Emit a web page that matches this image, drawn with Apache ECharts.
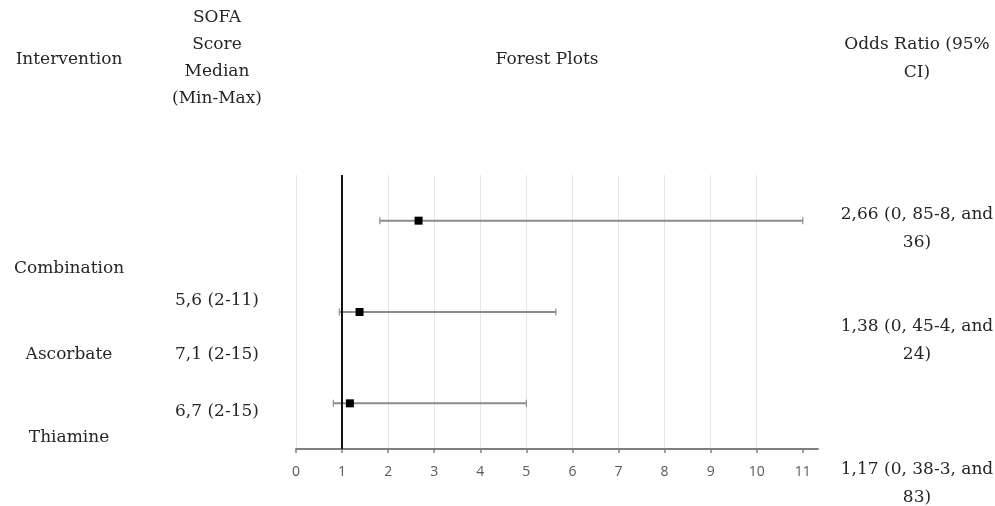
<!DOCTYPE html>
<html>
<head>
<meta charset="utf-8">
<script src="https://cdn.jsdelivr.net/npm/echarts@6/dist/echarts.min.js"></script>
<style>
  html, body { margin: 0; padding: 0; background: #fff; }
  #chart { width: 995px; height: 506px; }
</style>
</head>
<body>
<div id="chart"></div>
<script>
// Rows from top to bottom of the forest plot
const interventions = ['Combination', 'Ascorbate', 'Thiamine'];
const sofaScores = ['5,6 (2-11)', '7,1 (2-15)', '6,7 (2-15)'];
const oddsRatio = [2.66, 1.38, 1.17];
const ciLow = [1.82, 0.94, 0.81];
const ciHigh = [11.0, 5.64, 5.0];
const orLabels = [
  ['2,66 (0, 85-8, and', '36)'],
  ['1,38 (0, 45-4, and', '24)'],
  ['1,17 (0, 38-3, and', '83)']
];
const rowPos = [2.5, 1.5, 0.5];
const xTicks = [0, 1, 2, 3, 4, 5, 6, 7, 8, 9, 10, 11];

const SERIF = '"DejaVu Serif", serif';
const TXT = '#262626';

const chart = echarts.init(document.getElementById('chart'));

const rows = oddsRatio.map((v, i) => [v, rowPos[i], ciLow[i], ciHigh[i]]);

function txt(x, y, s, align) {
  return {
    type: 'text',
    x: x, y: y,
    style: {
      text: s, fill: TXT, font: '17px ' + SERIF,
      align: align || 'center', verticalAlign: 'middle'
    }
  };
}

const graphics = [
  txt(69, 60, 'Intervention'),
  txt(217, 18, 'SOFA'),
  txt(217, 45, 'Score'),
  txt(217, 72, 'Median'),
  txt(217, 99, '(Min-Max)'),
  txt(547, 60, 'Forest Plots'),
  txt(917, 45, 'Odds Ratio (95%'),
  txt(917, 73, 'CI)'),
  txt(69, 269, interventions[0]),
  txt(69, 355, interventions[1]),
  txt(69, 438, interventions[2]),
  txt(217, 301, sofaScores[0]),
  txt(217, 355, sofaScores[1]),
  txt(217, 412, sofaScores[2]),
  txt(917, 215, orLabels[0][0]), txt(917, 243, orLabels[0][1]),
  txt(917, 327, orLabels[1][0]), txt(917, 355, orLabels[1][1]),
  txt(917, 470, orLabels[2][0]), txt(917, 498, orLabels[2][1])
];

chart.setOption({
  animation: false,
  grid: { left: 296, right: 177, top: 175, bottom: 57 },
  xAxis: {
    type: 'value', min: 0, max: 11.33, interval: 1,
    axisLine: { show: true, lineStyle: { color: '#7f7f7f', width: 2 } },
    axisTick: { show: true, length: 4, lineStyle: { color: '#7f7f7f', width: 1.5 }, customValues: xTicks },
    axisLabel: {
      color: '#595959', fontSize: 14, fontFamily: '"Open Sans", sans-serif',
      margin: 16, customValues: xTicks
    },
    splitLine: { show: true, showMaxLine: false, lineStyle: { color: '#e6e6e6', width: 1 } }
  },
  yAxis: {
    type: 'value', min: 0, max: 3,
    show: false, splitLine: { show: false }
  },
  graphic: graphics,
  series: [
    {
      type: 'custom',
      data: rows,
      clip: false,
      renderItem: function (params, api) {
        const y = api.value(1);
        const pLow = api.coord([api.value(2), y]);
        const pHigh = api.coord([api.value(3), y]);
        const pMid = api.coord([api.value(0), y]);
        const cap = 3.5;
        const lineStyle = { stroke: '#8c8c8c', lineWidth: 2 };
        return {
          type: 'group',
          children: [
            { type: 'line', shape: { x1: pLow[0], y1: pLow[1], x2: pHigh[0], y2: pHigh[1] }, style: lineStyle },
            { type: 'line', shape: { x1: pLow[0], y1: pLow[1] - cap, x2: pLow[0], y2: pLow[1] + cap }, style: { stroke: '#8c8c8c', lineWidth: 1.2 } },
            { type: 'line', shape: { x1: pHigh[0], y1: pHigh[1] - cap, x2: pHigh[0], y2: pHigh[1] + cap }, style: { stroke: '#8c8c8c', lineWidth: 1.2 } },
            { type: 'rect', shape: { x: pMid[0] - 4, y: pMid[1] - 4, width: 8, height: 8 }, style: { fill: '#000' }, z2: 10 }
          ]
        };
      },
      markLine: {
        silent: true,
        symbol: 'none',
        label: { show: false },
        lineStyle: { color: '#111', width: 2, type: 'solid' },
        data: [{ xAxis: 1 }]
      }
    }
  ]
});
</script>
</body>
</html>
